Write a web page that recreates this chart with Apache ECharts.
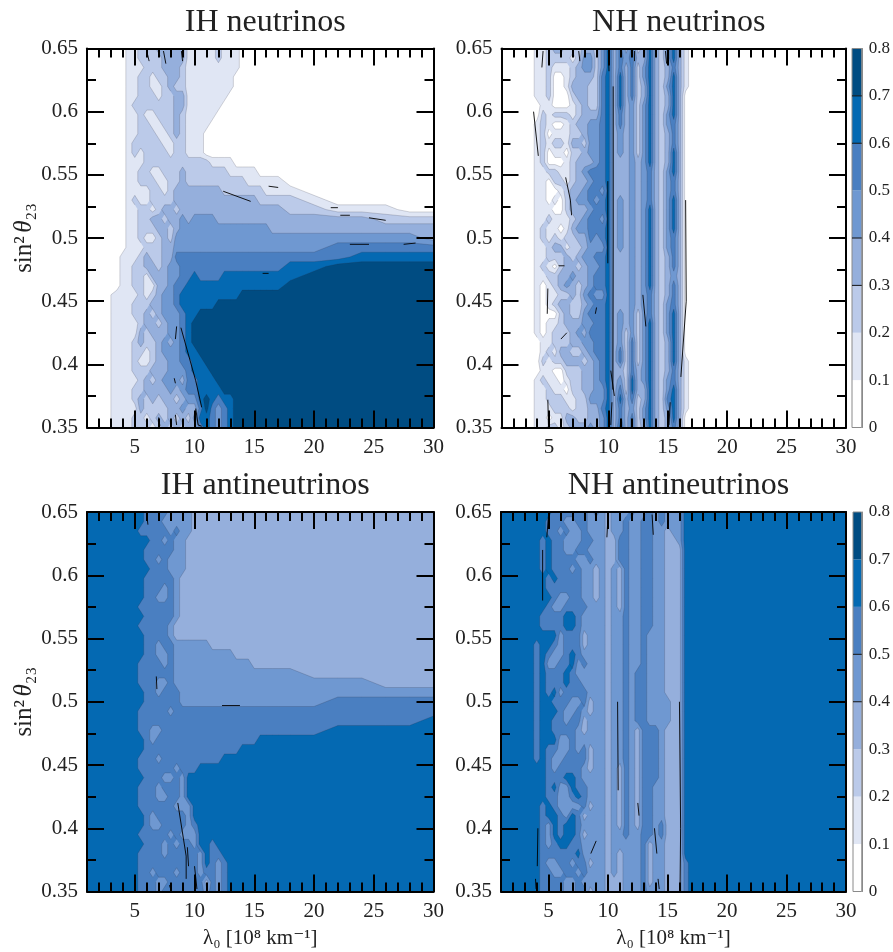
<!DOCTYPE html>
<html><head><meta charset="utf-8">
<style>html,body{margin:0;padding:0;background:#fff}#c{width:893px;height:952px}</style>
<script src="https://cdn.jsdelivr.net/npm/echarts@6/dist/echarts.min.js"></script>
</head><body><div id="c"></div>
<script>
// ---- data ----
const lambdaNodes=[1,2,2.5,3.5,4,4.5,5,5.5,6,6.5,7,7.5,8,8.5,9,9.5,10,10.5,11,11.5,12,12.5,13,13.5,14,14.5,15,15.5,16,16.5,17,18,20,22,24,26,28,30];
const sinNodes=[.65,.6425,.635,.6275,.62,.6125,.605,.5975,.59,.5825,.575,.5675,.56,.5525,.545,.5375,.53,.5225,.515,.5075,.5,.4925,.485,.4775,.47,.4625,.455,.4475,.44,.4325,.425,.4175,.41,.4025,.395,.3875,.38,.3725,.365,.3575,.35];
const levelColors=['#ffffff','#e0e6f4','#bbcae9','#95afdc','#6f98d1','#4a7fc1','#0469b2','#004c82'];
const levelIndex=[1,2,3,4,5,6,7];
const xMajor=[5,10,15,20,25,30];
const xMinor=[2,3,4,6,7,8,9,11,12,13,14,16,17,18,19,21,22,23,24,26,27,28,29];
const titles=['IH neutrinos','NH neutrinos','IH antineutrinos','NH antineutrinos'];
const barLevels=[0,.1,.2,.3,.4,.5,.6,.7];
const barLinesNu=[.3,.4,.6,.7];
const barLinesAnti=[.4,.5];
// each row is one value of sin^2 (top to bottom); one digit per lambda node = probability band in tenths; a short row repeats its last digit
const ihNu=[
"00000 11222333331 11112111 0","00000 11222233331 11112111 0","00000 11122233321 11111111 0","00000 11221223321 11111110","00000 11221123221 11111110",
"00000 11222122331 11111100","00000 12222222331 11111000","00000 11211222321 11110000","00000 11221122321 11100000","00000 11222112321 11000000",
"00000 12222211221 11000000","00000 12122221221 11000000","00000 11122222222 2221111 0","00000 11221122232 222222 11111 0","00000 11222112232 222222222 111111 0",
"00000 11112212333 33333 2222222 1111 0","00000 12112222333 33333333333 22222 1 0","00000 11221233233 333333333333333 2 2 111 0","00000 11223323343 4444 333333333333333 2","00000 11222332344 4444444444444 3",
"00000 11211232444 444444444444444444444 3","00000 11122233444 44444444444444444 5","00001 11232233555 555555555555555555 6","00001 12233234455 555555555555555 66 7","00001 12213334455 6 5555 66666666666 7",
"00001 12211334556 666666666666666 7","00011 11212344566 66666666 7","00011 12223344566 6666 7","00011 12232344456 6 7","00011 11233234456 7",
"00011 11323334456 7","00011 12322343456 7","00011 12212344456 6 7","00011 12112334455 66 7","00011 12223334445 666 7",
"00011 11232344435 5666 7","00011 12233334345 56666 7","00011 12323233234 4676566 7","00011 11322223343 3575456 7","00011 12212323232 4665456 7",
"00011 12221232323 3565456 7"];
const nhNu=[
"00001 1233222332 4635352363246310","00001 1222212442 4635453363246310","00001 1211123442 4635352463235310","00001 1200123332 5636352463236310","00001 1200133322 5636352363246310",
"00001 1200023322 5636352363236300","00000 1100012322 5636342463236300","00000 2122212333 5635342463246300","00001 2100123344 5635342463245300","00001 2011122344 5634342463235300",
"00001 2122133244 5634342463235300","00001 2011022344 5634342463236300","00001 2000123334 5633343463236300","00001 1221123455 5633343453246300","00001 1022123345 5633343453245300",
"00001 1001233455 4633343453245300","00001 1010234454 5634343453246300","00001 1100233345 5634343463246300","00001 1211123455 4634343463246300","00001 2110134455 5634343463246300",
"00001 2121223354 5634343463245300","00001 1233122344 4634343463245300","00001 1222323445 5633343463235300","00001 2102332344 5633343463235300","00001 1223343345 5633343463234300",
"00001 0123432345 5633343463235300","00001 0112232454 4633343453235300","00001 0123322345 5633343453245300","00001 0002322455 5634342453246300","00001 0112333445 5634342463246300",
"00001 0122234355 5634242463246300","00000 1122233445 5634252463236300","00000 1213322345 5635252463236300","00000 2122333234 5635252463236310","00000 1100222334 5633253463235310",
"00001 2110122334 5634263463245310","00001 1211022334 4635263363246310","00001 1222112244 4636352363256310","00001 1122212233 5635342463246310","00001 1011332233 4635352463236300",
"00001 1221233343 4636352363235300"];
const ihAnti=[
"666666 6655554444 3","666666 6655544444 3","666666 6555554544 3","666666 6665545443 3","666666 6655555443 3",
"666666 6655454443 3","666666 6665554443 3","666666 6655555433 3","666666 6655545433 3","666666 6655445433 3",
"666666 6555555433 3","666666 6655555433 3","666666 6555554333 3","666666 6655554333 3","666666 6655455444 444 3",
"666666 6655445444 4444444 3","666666 6555545444 4444444444 3","666666 6555555444 4444444444444444 3","666666 6555445444 4444444444444444444 3","666666 6655455544 4",
"666666 6655555544 44444444444444444 5","666666 6555554555 5","666666 6555555555 555555555555555555555 6","666666 6554455555 55555555555555555 6","666666 6654555555 55555555555 6",
"666666 6655555555 55555555 6","666666 6555455555 55555 6","666666 6555555455 5 6","666666 6655544546 6","666666 6555455546 6",
"666666 6555445546 6","666666 6555555444 6","666666 6654555554 6","666666 6654455554 5 6","666666 6555554544 4 6",
"666666 6655545455 4 6 6 5 6","666666 6555545555 5 4 6 5 5 6","666666 6555555555 5 4 6 5 4 5 6","666666 6554555455 5 4 5 5 4 5 6","666666 6555445555 5 5 3 5 4 5 6",
"666666 6555455555 5 5 4 5 4 5 6"];
const nhAnti=[
"66666 6655555545 4344454454544466","66666 6555445544 4344544554544466","66666 6554544544 4344544554434466","66666 5655444554 4335544554433466","66666 5655445544 4335544554433366",
"66666 5655554454 4335544554433366","66666 5655545443 4343544554433366","66666 6565555443 4343544554433366","66666 6555555443 4343544554433366","66666 6654455443 4343544554433366",
"66666 6544555544 4343544554433366","66666 5555665444 4344544554433366","66666 5555665444 4344544554433366","66666 6664555344 4344544544433366","66665 6654555344 4344544544433366",
"66665 6544565444 4344544544433366","66665 6445564544 4344544544433366","66665 6555654444 4344545544433366","66665 6555655444 4344545544433366","66665 6564555544 4344545544433366",
"66665 6655544534 4344545544443366","66665 6665445434 4344545544443366","66665 6655455344 4344545544443366","66665 6655554344 4344543555433366","66665 6664454444 4344543555433366",
"66665 6554454534 4344543555433366","66665 6544555534 4344543555433366","66666 6545555434 4343543555433366","66666 6555665444 4343543555433366","66666 6564465544 4343543554433366",
"66666 6554456544 4343543554433366","66666 5654444534 4343543554433366","66666 5665465344 4343543554433366","66666 5465665444 4343543554533366","66666 5465665344 4344544554533366",
"66666 5456655444 4344444534433366","66666 5555556444 4343444534433366","66666 5445545534 4343444534433356","66666 5544554544 4343444534433356","66666 5555445444 4333444534433356",
"66666 5555445534 4333444544433356"];
// black contour pieces, [lambda, sin^2] pairs
const ihNuBlack=[[[8.86,.429],[10.1,.387],[10.6,.366]],[[12.4,.537],[14.7,.529]],[[16.2,.541],[17,.54]],[[21.4,.524],[22,.524]],[[22.2,.518],[23,.518]],[[24.6,.516],[26,.514]],[[23,.495],[24.6,.495]],[[27.5,.495],[28.5,.496]],[[15.7,.472],[16.2,.472]],[[10.1,.365],[10.3,.352],[10.6,.351]],[[8.4,.36],[8.5,.352]],[[7,.358],[7.1,.351]],[[8.3,.389],[8.4,.385]],[[8.5,.43],[8.4,.42]],[[6,.648],[6.2,.64]],[[7.4,.648],[7.6,.638]],[[8.9,.648],[9,.64]]];
const nhNuBlack=[[[10.4,.62],[10.4,.5],[10.37,.38]],[[9.95,.545],[9.95,.48]],[[16.5,.53],[16.55,.45],[16.1,.39]],[[3.7,.6],[4.1,.565]],[[4.9,.46],[4.85,.44]],[[12.9,.455],[13.15,.43]],[[10.2,.395],[10.5,.375]],[[4.9,.372],[4.95,.352]],[[10.3,.37],[10.2,.352]],[[15.2,.37],[15.1,.352]],[[6.4,.548],[6.8,.53],[6.9,.518]],[[5.8,.478],[6.3,.478]],[[6,.42],[6.5,.425]],[[9,.445],[8.9,.44]],[[4.5,.648],[4.4,.635]],[[7.5,.648],[7.6,.64]],[[10,.648],[10.05,.632]],[[12.2,.648],[12.2,.64]],[[14.8,.648],[14.9,.638]]];
const ihAntiBlack=[[[8.6,.42],[9.3,.378]],[[9.3,.378],[9.3,.36]],[[9.4,.385],[9.5,.37]],[[12.3,.497],[13.8,.497]],[[6.8,.52],[6.85,.51]],[[6,.648],[6.1,.64]],[[10,.37],[10.2,.352]],[[7.9,.355],[8,.352]]];
const nhAntiBlack=[[[16,.5],[16.1,.4],[16.05,.352]],[[4.1,.4],[4.05,.37]],[[10.8,.5],[10.85,.43]],[[14.2,.36],[14.3,.352]],[[3.9,.36],[3.95,.352]],[[13.9,.4],[14.1,.38]],[[12.5,.42],[12.6,.41]],[[8.55,.38],[9,.39]],[[4.5,.62],[4.5,.58]],[[5,.648],[4.85,.63]],[[10,.648],[9.9,.63]],[[13.7,.648],[13.8,.632]]];

// ---- layout ----
const panelBoxes=[{left:87,top:48.5,width:346.5,height:379},{left:501.5,top:48.5,width:344.5,height:379},{left:87,top:512,width:346.5,height:379.5},{left:501,top:512,width:345,height:379.5}];
const barBoxes=[{left:852,top:48.5,width:12,height:379},{left:853,top:512,width:12,height:379.5}];
const serif='"Liberation Serif","DejaVu Serif",serif';
const cols=lambdaNodes.length;
const parse=rows=>rows.map(r=>{let s=r.replace(/ /g,'');while(s.length<cols)s+=s[s.length-1];return Array.from(s).slice(0,cols).map(d=>+d/10+.05);});
const grids=[ihNu,nhNu,ihAnti,nhAnti].map(parse);
const blacks=[ihNuBlack,nhNuBlack,ihAntiBlack,nhAntiBlack];

function clipCell(c,L){
  const poly=[],cross=[];
  for(let i=0;i<4;i++){const a=c[i],b=c[(i+1)%4],ai=a[2]>=L,bi=b[2]>=L;
    if(ai)poly.push([a[0],a[1]]);
    if(ai!==bi){const t=(L-a[2])/(b[2]-a[2]);const p=[a[0]+t*(b[0]-a[0]),a[1]+t*(b[1]-a[1])];poly.push(p);cross.push(p);}
  }
  return {poly,cross};
}
function bandRender(g){return function(params,api){
  const L=api.value(0)/10,vals=grids[g];
  const nodes=sinNodes.map((y,j)=>lambdaNodes.map((x,i)=>{const p=api.coord([x,y]);return [p[0],p[1],vals[j][i]];}));
  let fill='',line='';
  for(let j=0;j<sinNodes.length-1;j++)for(let i=0;i<cols-1;i++){
    const c=[nodes[j][i],nodes[j][i+1],nodes[j+1][i+1],nodes[j+1][i]];
    const {poly,cross}=clipCell(c,L);
    if(poly.length>2)fill+='M'+poly.map(p=>p[0].toFixed(2)+' '+p[1].toFixed(2)).join('L')+'Z';
    if(cross.length>=2)line+='M'+cross[0][0].toFixed(2)+' '+cross[0][1].toFixed(2)+'L'+cross[1][0].toFixed(2)+' '+cross[1][1].toFixed(2);
  }
  const children=[];
  if(fill)children.push({type:'path',shape:{pathData:fill},style:{fill:levelColors[api.value(0)]}});
  if(line)children.push({type:'path',shape:{pathData:line},style:{fill:'none',stroke:'rgba(40,45,60,.38)',lineWidth:.5}});
  return {type:'group',children};
};}
function blackRender(g){return function(params,api){
  return {type:'group',children:blacks[g].map(seg=>({type:'polyline',shape:{points:seg.map(p=>api.coord(p))},style:{fill:'none',stroke:'#000',lineWidth:.9}}))};
};}
const tickS={color:'#000',width:2};
const xAxes=[],yAxes=[],series=[];
panelBoxes.forEach((b,g)=>{
  const base={gridIndex:g,type:'value',min:1,max:30,splitLine:{show:false},z:6,axisLine:{onZero:false,lineStyle:{color:'#000',width:2}}};
  const bottomRow=g>=2;
  const ni=xAxes.length;
  xAxes.push({...base,position:'bottom',axisTick:{inside:true,length:17,lineStyle:tickS,customValues:xMajor},axisLabel:{customValues:xMajor,fontFamily:serif,fontSize:21,color:'#222',margin:9},
    name:bottomRow?'λ₀ [10⁸ km⁻¹]':'',nameLocation:'middle',nameGap:36,nameTextStyle:{fontFamily:serif,fontSize:21,color:'#222'}});
  xAxes.push({...base,position:'top',axisTick:{inside:true,length:17,lineStyle:tickS,customValues:xMajor},axisLabel:{show:false}});
  xAxes.push({...base,position:'bottom',axisLine:{show:false,onZero:false},axisTick:{inside:true,length:9,lineStyle:tickS,customValues:xMinor},axisLabel:{show:false}});
  xAxes.push({...base,position:'top',axisLine:{show:false,onZero:false},axisTick:{inside:true,length:9,lineStyle:tickS,customValues:xMinor},axisLabel:{show:false}});
  const ybase={gridIndex:g,type:'value',min:.35,max:.65,interval:.05,splitLine:{show:false},z:6,axisLine:{onZero:false,lineStyle:{color:'#000',width:2}},
    axisTick:{inside:true,length:17,lineStyle:tickS},minorTick:{show:true,splitNumber:2,length:9,lineStyle:tickS},minorSplitLine:{show:false}};
  const yi=yAxes.length;
  yAxes.push({...ybase,position:'left',axisLabel:{fontFamily:serif,fontSize:21,color:'#222',margin:9,formatter:v=>String(+v.toFixed(2))},
    name:g%2===0?'{n|sin²} {i|θ}{n|₂₃}':'',nameLocation:'middle',nameGap:48,nameRotate:90,nameTextStyle:{rich:{n:{fontFamily:serif,fontSize:25,color:'#222'},i:{fontFamily:serif,fontStyle:'italic',fontSize:25,color:'#222'}}}});
  yAxes.push({...ybase,position:'right',axisLabel:{show:false}});
  const cfg={type:'custom',xAxisIndex:ni,yAxisIndex:yi,coordinateSystem:'cartesian2d',silent:true,z:2,animation:false,clip:true};
  series.push({...cfg,renderItem:bandRender(g),data:levelIndex.map(l=>[l,.5])});
  series.push({...cfg,z:3,renderItem:blackRender(g),data:[[1,.5]]});
});
barBoxes.forEach((b,k)=>{
  const g=panelBoxes.length+k;
  const ni=xAxes.length,yi=yAxes.length;
  xAxes.push({gridIndex:g,type:'value',min:0,max:1,show:false});
  yAxes.push({gridIndex:g,type:'value',min:0,max:.8,interval:.1,position:'right',splitLine:{show:false},
    axisLine:{show:true,onZero:false,lineStyle:{color:'#8a8a8a',width:1}},axisTick:{show:false},
    axisLabel:{fontFamily:serif,fontSize:17,color:'#222',margin:7,formatter:v=>String(+v.toFixed(1))}});
  const lines=k===0?barLinesNu:barLinesAnti;
  const cfg={type:'custom',xAxisIndex:ni,yAxisIndex:yi,coordinateSystem:'cartesian2d',silent:true,animation:false};
  series.push({...cfg,z:2,data:barLevels.map((l,i)=>[l,i]),renderItem:(p,api)=>{
    const l=api.value(0),a=api.coord([0,l+.1]),c=api.coord([1,l]);
    return {type:'rect',shape:{x:a[0],y:a[1],width:c[0]-a[0],height:c[1]-a[1]},style:{fill:levelColors[api.value(1)]}};
  }});
  series.push({...cfg,z:3,data:[[0,0]],renderItem:(p,api)=>{
    const a=api.coord([0,.8]),c=api.coord([1,0]);
    const kids=[{type:'rect',shape:{x:a[0],y:a[1],width:c[0]-a[0],height:c[1]-a[1]},style:{fill:'none',stroke:'#8a8a8a',lineWidth:1}}];
    lines.forEach(v=>{const s=api.coord([0,v]),e=api.coord([1,v]);kids.push({type:'line',shape:{x1:s[0],y1:s[1],x2:e[0],y2:e[1]},style:{stroke:'#111',lineWidth:1}});});
    return {type:'group',children:kids};
  }});
});
const chart=echarts.init(document.getElementById('c'),null,{renderer:'canvas'});
chart.setOption({animation:false,backgroundColor:'#fff',
  title:titles.map((t,i)=>({text:t,left:panelBoxes[i].left+panelBoxes[i].width/2,top:panelBoxes[i].top-47,textAlign:'center',textStyle:{fontFamily:serif,fontWeight:'normal',fontSize:32,color:'#222'}})),
  grid:[...panelBoxes,...barBoxes].map(b=>({...b,containLabel:false})),
  xAxis:xAxes,yAxis:yAxes,series});
</script></body></html>
